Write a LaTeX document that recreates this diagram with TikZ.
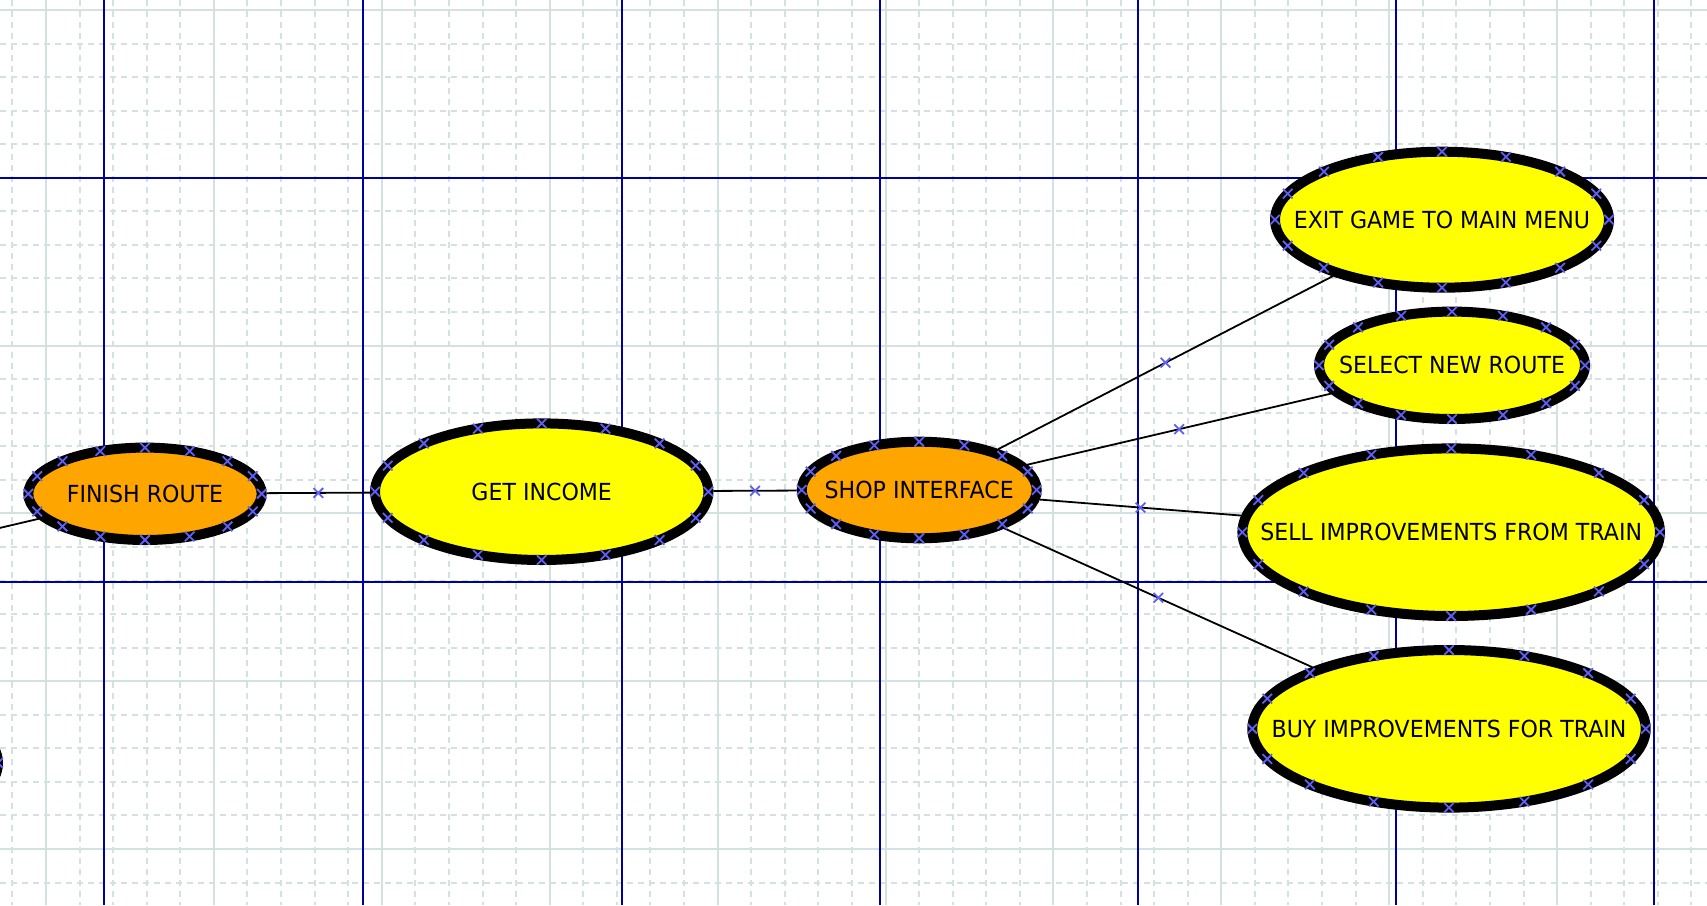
\documentclass[tikz,border=0pt]{standalone}
\usepackage{fontspec}
\newfontfamily\lblfont[FakeStretch=0.94]{DejaVu Sans}
\usetikzlibrary{shapes.geometric,calc}
\pgfdeclarelayer{bg}
\pgfsetlayers{bg,main}
\definecolor{gridc}{RGB}{212,225,225}
\definecolor{pageblue}{RGB}{0,0,160}
\definecolor{xcol}{RGB}{95,95,245}
\definecolor{ucorange}{RGB}{255,165,0}
\definecolor{ucyellow}{RGB}{255,255,0}
\tikzset{
  uc/.style={ellipse, draw=black, line width=10pt, inner sep=0pt},
  txt/.style={font=\lblfont\fontsize{23.5}{28}\selectfont, text=black, inner sep=0pt},
  xm/.style={draw=xcol, line width=1.8pt},
  conn/.style={draw=black, line width=1.8pt},
  minorgrid/.style={draw=gridc, line width=2pt, dash pattern=on 6pt off 5pt},
  majorgrid/.style={draw=gridc, line width=2pt},
  pageline/.style={draw=pageblue, line width=2pt}
}
% name, x, y, rx, ry, fill, text
\newcommand\ucnode[7]{%
  \node[uc, fill=#6, minimum width={2*#4}, minimum height={2*#5},
        label={[txt]center:#7}] (#1) at (#2,#3) {};
  \foreach \k in {0,...,15}{%
    \draw[xm] ({#2+#4*cos(22.5*\k)},{#3+#5*sin(22.5*\k)})
      +(-4.8,-4.8) -- +(4.8,4.8) +(-4.8,4.8) -- +(4.8,-4.8);
  }%
}
\newcommand\xmark[1]{\draw[xm] (#1) +(-4.8,-4.8) -- +(4.8,4.8) +(-4.8,4.8) -- +(4.8,-4.8);}
\begin{document}
\begin{tikzpicture}[x=1pt,y=-1pt]
\useasboundingbox (0,0) rectangle (1707,905);
\begin{pgfonlayer}{bg}
  \fill[white] (0,0) rectangle (1707,905);
  \foreach \k in {-1,...,49}{%
    \pgfmathsetmacro\xx{46+33.58*\k}
    \pgfmathtruncatemacro\mm{mod(\k+5,5)}
    \ifnum\mm=0 \draw[majorgrid] (\xx,0) -- (\xx,905);
    \else \draw[minorgrid] (\xx,0) -- (\xx,905); \fi
  }
  \foreach \k in {0,...,27}{%
    \pgfmathsetmacro\yy{10+33.56*\k}
    \pgfmathtruncatemacro\mm{mod(\k,5)}
    \ifnum\mm=0 \draw[majorgrid] (0,\yy) -- (1707,\yy);
    \else \draw[minorgrid] (0,\yy) -- (1707,\yy); \fi
  }
  \foreach \xx in {104,363.3,621.7,880,1138,1396,1654}{\draw[pageline] (\xx,0) -- (\xx,905);}
  \foreach \yy in {177.7,581.7}{\draw[pageline] (0,\yy) -- (1707,\yy);}
\end{pgfonlayer}
\begin{scope}
\clip (0,0) rectangle (1707,905);
\ucnode{leftuc}{-165}{763}{163}{68}{ucyellow}{}
\ucnode{finish}{145}{493.8}{116.7}{46.2}{ucorange}{FINISH ROUTE}
\ucnode{income}{541.7}{491.7}{166.7}{68.3}{ucyellow}{GET INCOME}
\ucnode{shop}{919.2}{490}{117.5}{48.3}{ucorange}{SHOP INTERFACE}
\ucnode{exitg}{1442}{219.7}{167}{68}{ucyellow}{EXIT GAME TO MAIN MENU}
\ucnode{select}{1452}{365.3}{133}{53.7}{ucyellow}{SELECT NEW ROUTE}
\ucnode{sell}{1451.2}{532.2}{208.8}{83.8}{ucyellow}{SELL IMPROVEMENTS FROM TRAIN}
\ucnode{buy}{1449}{728.8}{196.7}{78.8}{ucyellow}{BUY IMPROVEMENTS FOR TRAIN}
\coordinate (offl) at (-260,589);
\end{scope}
\begin{pgfonlayer}{bg}
  \clip (0,0) rectangle (1707,905);
  \draw[conn] (finish) -- (offl);
  \draw[conn] (finish) -- coordinate (m1) (income);
  \draw[conn] (income) -- coordinate (m2) (shop);
  \draw[conn] (shop) -- coordinate (m3) (exitg);
  \draw[conn] (shop) -- coordinate (m4) (select);
  \draw[conn] (shop) -- coordinate (m5) (sell);
  \draw[conn] (shop) -- coordinate (m6) (buy);
\end{pgfonlayer}
\foreach \m in {m1,m2,m3,m4,m5,m6}{\xmark{\m}}
\end{tikzpicture}
\end{document}
